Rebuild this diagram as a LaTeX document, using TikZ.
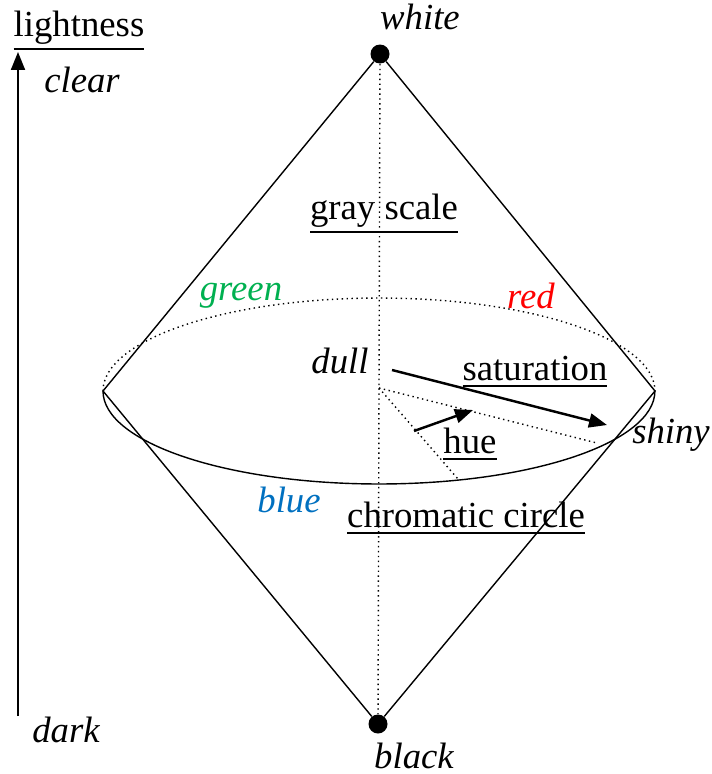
\documentclass[tikz,border=0pt]{standalone}
\usepackage{fontspec}
\setmainfont{Liberation Serif}
\usepackage{tikz}
\usetikzlibrary{arrows.meta, positioning, calc}
\definecolor{huegreen}{RGB}{0,176,80}
\definecolor{huered}{RGB}{255,0,0}
\definecolor{hueblue}{RGB}{0,112,192}
\newcommand{\ulword}[1]{\setbox0=\hbox{#1}\vtop{\copy0\kern2.6pt\hrule height 1.1pt width \wd0}}

\begin{document}
\begin{tikzpicture}[x=0.02cm, y=-0.02cm,
    font=\fontsize{20.9}{25}\selectfont,
    dot/.style={circle, fill=black, inner sep=0pt, minimum size=0.38cm},
    word/.style={anchor=base, inner sep=0pt},
    edge/.style={line width=0.8pt},
    guide/.style={dotted, line width=0.8pt},
    bold arrow/.style={-{Triangle[length=0.36cm, width=0.28cm]}, line width=1.4pt}]
    \useasboundingbox (0,0) rectangle (711,774);

    % white and black
    \node[dot] (W) at (380,54) {};
    \node[dot] (B) at (378,724) {};
    \coordinate (L) at (103,391);
    \coordinate (R) at (655,391);
    \coordinate (O) at (379,388);
    \coordinate (P1) at (597,443);
    \coordinate (P2) at (458,479);

    % double cone
    \draw[edge] (W) -- (L);
    \draw[edge] (W) -- (R);
    \draw[edge] (B) -- (L);
    \draw[edge] (B) -- (R);
    \draw[guide] (W) -- (B);

    % chromatic circle
    \draw[guide] (L) arc[start angle=180, end angle=0, x radius=5.52cm, y radius=1.86cm];
    \draw[edge] (L) arc[start angle=180, end angle=360, x radius=5.52cm, y radius=1.86cm];
    \draw[guide] (O) -- (P1);
    \draw[guide] (O) -- (P2);

    % saturation and hue
    \coordinate (S0) at (392,370);
    \coordinate (S1) at (607,425);
    \draw[bold arrow] (S0) -- (S1);
    \coordinate (H0) at (414,431);
    \coordinate (H1) at (473,410);
    \draw[bold arrow] (H0) -- (H1);

    % lightness axis
    \coordinate (A0) at (18,716);
    \coordinate (A1) at (18,52);
    \draw[bold arrow, line width=1.1pt] (A0) -- (A1);

    % labels
    \node[word] (lightness) at (79,36) {\ulword{lightness}};
    \node[word] (clear) at (82,92) {\itshape clear};
    \node[word] (dark) at (66,742) {\itshape dark};
    \node[word] (white) at (420,30) {\itshape white};
    \node[word] (black) at (414,768) {\itshape black};
    \node[word] (gray) at (384,219) {\ulword{gray scale}};
    \node[word, text=huegreen] (green) at (241,300) {\itshape green};
    \node[word, text=huered] (red) at (531,308) {\itshape red};
    \node[word, text=hueblue] (blue) at (289,512) {\itshape blue};
    \node[word] (dull) at (340,373) {\itshape dull};
    \node[word] (sat) at (535,380) {\ulword{saturation}};
    \node[word] (hue) at (470,453) {\ulword{hue}};
    \node[word] (shiny) at (671,443) {\itshape shiny};
    \node[word] (chroma) at (466,527) {\ulword{chromatic circle}};
\end{tikzpicture}
\end{document}
